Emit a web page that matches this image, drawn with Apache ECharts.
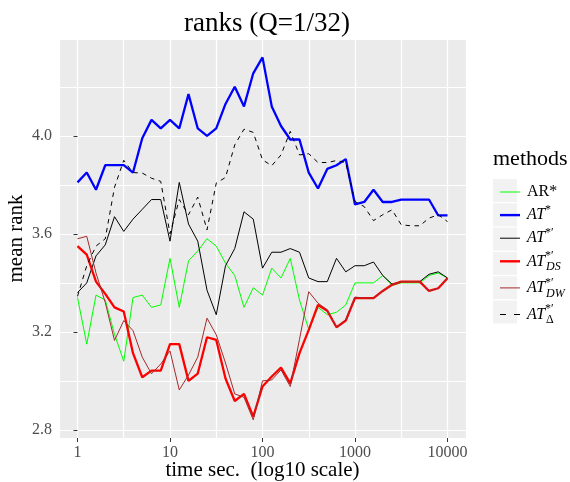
<!DOCTYPE html>
<html>
<head>
<meta charset="utf-8">
<script src="https://cdn.jsdelivr.net/npm/echarts@6/dist/echarts.min.js"></script>
<style>
  html, body { margin: 0; padding: 0; background: #fff; }
  #chart { width: 570px; height: 482px; }
</style>
</head>
<body>
<div id="chart"></div>
<script>
// x positions: log10(time sec.)
const logTime = [0, 0.1, 0.2, 0.3, 0.4, 0.5, 0.6, 0.7, 0.8, 0.9, 1.0, 1.1, 1.2, 1.3, 1.4, 1.5, 1.6, 1.7, 1.8, 1.9, 2.0,
  2.1, 2.2, 2.3, 2.4, 2.5, 2.6, 2.7, 2.8, 2.9, 3.0, 3.1, 3.2, 3.3, 3.4, 3.5, 3.6, 3.7, 3.8, 3.9, 4.0];

const arStar = [3.34, 3.15, 3.35, 3.33, 3.19, 3.08, 3.34, 3.35, 3.30, 3.31, 3.50, 3.30, 3.49, 3.53, 3.58, 3.55, 3.48, 3.43, 3.30, 3.38, 3.35,
  3.46, 3.42, 3.50, 3.33, 3.21, 3.30, 3.27, 3.28, 3.31, 3.40, 3.40, 3.40, 3.43, 3.39, 3.40, 3.40, 3.40, 3.43, 3.44, 3.42];
const atStar = [3.81, 3.85, 3.78, 3.88, 3.88, 3.88, 3.85, 3.99, 4.065, 4.03, 4.065, 4.03, 4.17, 4.03, 4.00, 4.03, 4.13, 4.20, 4.12, 4.255, 4.32,
  4.12, 4.04, 3.985, 3.985, 3.85, 3.785, 3.865, 3.88, 3.905, 3.72, 3.73, 3.78, 3.73, 3.73, 3.74, 3.74, 3.74, 3.74, 3.675, 3.675];
const atPrime = [3.36, 3.40, 3.51, 3.555, 3.67, 3.61, 3.66, 3.70, 3.74, 3.74, 3.57, 3.81, 3.64, 3.57, 3.37, 3.27, 3.47, 3.54, 3.69, 3.66, 3.46,
  3.525, 3.525, 3.54, 3.525, 3.42, 3.405, 3.405, 3.50, 3.445, 3.47, 3.47, 3.485, 3.43, 3.395, 3.405, 3.405, 3.405, 3.435, 3.445, 3.42];
const atDS = [3.55, 3.515, 3.405, 3.355, 3.30, 3.283, 3.113, 3.015, 3.042, 3.042, 3.15, 3.15, 3.00, 3.03, 3.178, 3.167, 3.01, 2.918, 2.947, 2.854, 2.977,
  3.018, 3.054, 2.99, 3.113, 3.208, 3.31, 3.286, 3.219, 3.246, 3.338, 3.338, 3.338, 3.367, 3.392, 3.405, 3.405, 3.405, 3.367, 3.378, 3.419];
const atDW = [3.58, 3.59, 3.44, 3.32, 3.165, 3.246, 3.205, 3.097, 3.029, 3.069, 3.122, 2.963, 3.024, 3.097, 3.256, 3.188, 3.073, 2.947, 2.933, 2.841, 3.0,
  3.004, 3.045, 2.977, 3.17, 3.364, 3.317, 3.29, 3.219, 3.25, 3.342, 3.338, 3.338, 3.367, 3.392, 3.405, 3.405, 3.405, 3.367, 3.378, 3.419];
const atDelta = [3.345, 3.47, 3.55, 3.58, 3.79, 3.90, 3.85, 3.848, 3.827, 3.814, 3.60, 3.74, 3.678, 3.75, 3.616, 3.807, 3.83, 3.963, 4.027, 4.014, 3.902,
  3.878, 3.922, 4.018, 3.922, 3.927, 3.891, 3.891, 3.899, 3.891, 3.732, 3.711, 3.654, 3.678, 3.698, 3.637, 3.633, 3.633, 3.664, 3.678, 3.65];

const xTickPos = [0, 1, 2, 3, 4];
const xTickLabels = ['1', '10', '100', '1000', '10000'];
const yTicks = [2.8, 3.2, 3.6, 4.0];

const SERIF = 'Liberation Serif';
const XMIN = -0.2, XMAX = 4.2, YMIN = 2.767, YMAX = 4.395;

// legend key glyphs
const ICON_THIN = 'path://M0,0H20V1H0Z';
const ICON_THICK = 'path://M0,0H20V2.4H0Z';
const ICON_DASH = 'path://M0,0H6V1H0Z M14,0H20V1H14Z';

const methods = [
  { name: 'AR*', data: arStar, color: '#00FF00', width: 1, type: 'solid', icon: ICON_THIN, label: '{r|AR*}' },
  { name: 'AT*', data: atStar, color: '#0000FF', width: 2.3, type: 'solid', icon: ICON_THICK, label: '{i|AT}{sup|*}' },
  { name: "AT*'", data: atPrime, color: '#000000', width: 1, type: 'solid', icon: ICON_THIN, label: '{i|AT}{sup|*′}' },
  { name: "AT*'DS", data: atDS, color: '#FF0000', width: 2.3, type: 'solid', icon: ICON_THICK, label: '{i|AT}{supz|*′}{sub|DS}' },
  { name: "AT*'DW", data: atDW, color: '#A52A2A', width: 1, type: 'solid', icon: ICON_THIN, label: '{i|AT}{supz|*′}{sub|DW}' },
  { name: "ATΔ", data: atDelta, color: '#000000', width: 1, type: [4.5, 4.5], icon: ICON_DASH, label: '{i|AT}{supz|*′}{subn|Δ}' }
];

const chart = echarts.init(document.getElementById('chart'), null, { renderer: 'canvas' });

const gridLine = { show: true, lineStyle: { color: '#FFFFFF', width: 1.2 } };

const keyRects = methods.map((m, i) => ({
  type: 'rect',
  left: 493,
  top: 179 + i * 24.3,
  shape: { width: 24, height: 23 },
  style: { fill: '#F2F2F2' },
  z: -1
}));

const option = {
  backgroundColor: '#FFFFFF',
  animation: false,
  title: {
    text: 'ranks (Q=1/32)',
    left: 262,
    textAlign: 'center',
    top: 5,
    textStyle: { fontFamily: SERIF, fontWeight: 'normal', fontSize: 27, color: '#000' }
  },
  grid: {
    left: 59, right: 104, top: 39, bottom: 44,
    outerBoundsMode: 'none',
    containLabel: false,
    show: true, backgroundColor: '#EBEBEB', borderWidth: 0
  },
  xAxis: [
    {
      type: 'value', min: XMIN, max: XMAX, splitNumber: 9,
      axisLine: { show: false }, axisTick: { show: false }, axisLabel: { show: false },
      splitLine: gridLine
    },
    {
      type: 'value', min: XMIN, max: XMAX, position: 'bottom',
      axisLine: { show: false },
      axisTick: { show: true, customValues: xTickPos, length: 4, lineStyle: { color: '#333333', width: 1 } },
      axisLabel: {
        customValues: xTickPos, margin: 7,
        fontFamily: SERIF, fontSize: 16, color: '#4D4D4D',
        formatter: v => xTickLabels[xTickPos.indexOf(Math.round(v))]
      },
      splitLine: { show: false },
      name: 'time sec.  (log10 scale)', nameLocation: 'middle', nameGap: 22,
      nameMoveOverlap: false,
      nameTextStyle: { fontFamily: SERIF, fontSize: 21, color: '#000' }
    }
  ],
  yAxis: [
    {
      type: 'value', min: YMIN, max: YMAX, splitNumber: 8,
      axisLine: { show: false }, axisTick: { show: false }, axisLabel: { show: false },
      splitLine: gridLine
    },
    {
      type: 'value', min: YMIN, max: YMAX, position: 'left',
      axisLine: { show: false },
      axisTick: { show: true, customValues: yTicks, length: 4, lineStyle: { color: '#333333', width: 1 } },
      axisLabel: {
        customValues: yTicks, margin: 7,
        fontFamily: SERIF, fontSize: 16, color: '#4D4D4D',
        formatter: v => v.toFixed(1)
      },
      splitLine: { show: false },
      name: 'mean rank', nameLocation: 'middle', nameGap: 32, nameRotate: 90,
      nameMoveOverlap: false,
      nameTextStyle: { fontFamily: SERIF, fontSize: 21, color: '#000' }
    }
  ],
  legend: {
    orient: 'vertical',
    left: 495, top: 179,
    itemWidth: 20, itemHeight: 23, itemGap: 3.6,
    symbolKeepAspect: true,
    data: methods.map(m => ({ name: m.name, icon: m.icon })),
    formatter: name => methods.find(m => m.name === name).label,
    textStyle: {
      rich: {
        r: { fontFamily: SERIF, fontSize: 16, color: '#000', lineHeight: 23, padding: [0, 0, 0, 2] },
        i: { fontFamily: SERIF, fontSize: 16, fontStyle: 'italic', color: '#000', lineHeight: 23, padding: [0, 0, 0, 2] },
        sup: { fontFamily: SERIF, fontSize: 12, color: '#000', verticalAlign: 'top', lineHeight: 13 },
        supz: { fontFamily: SERIF, fontSize: 12, color: '#000', verticalAlign: 'top', lineHeight: 13, width: 1 },
        sub: { fontFamily: SERIF, fontSize: 12, fontStyle: 'italic', color: '#000', verticalAlign: 'bottom', lineHeight: 13 },
        subn: { fontFamily: SERIF, fontSize: 12, color: '#000', verticalAlign: 'bottom', lineHeight: 13 }
      }
    }
  },
  graphic: [
    {
      type: 'text', left: 493, top: 148,
      style: { text: 'methods', fontFamily: SERIF, fontSize: 22, fill: '#000' }
    }
  ].concat(keyRects),
  series: methods.map(m => ({
    name: m.name,
    type: 'line',
    xAxisIndex: 0,
    yAxisIndex: 0,
    data: logTime.map((t, k) => [t, m.data[k]]),
    showSymbol: false,
    symbol: 'none',
    color: m.color,
    itemStyle: { color: m.color },
    lineStyle: { color: m.color, width: m.width, type: m.type },
    emphasis: { disabled: true }
  }))
};

chart.setOption(option);
</script>
</body>
</html>
